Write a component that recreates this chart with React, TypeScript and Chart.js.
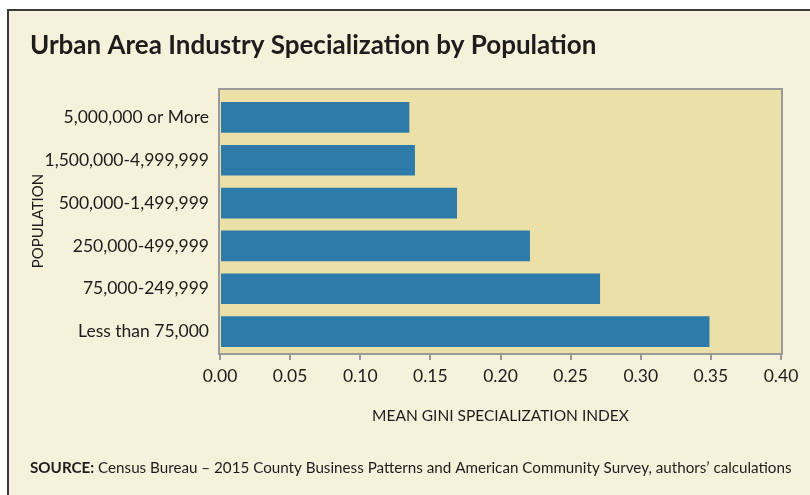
import React, { useEffect, useRef } from "react";
import { Chart, registerables } from "chart.js";

Chart.register(...registerables);

const categories = [
  "5,000,000 or More",
  "1,500,000-4,999,999",
  "500,000-1,499,999",
  "250,000-499,999",
  "75,000-249,999",
  "Less than 75,000",
];
const values = [0.135, 0.139, 0.169, 0.221, 0.271, 0.349];
const xTicks = [0, 0.05, 0.1, 0.15, 0.2, 0.25, 0.3, 0.35, 0.4];

const titleText = "Urban Area Industry Specialization by Population";
const xTitle = "MEAN GINI SPECIALIZATION INDEX";
const yTitle = "POPULATION";
const sourceBold = "SOURCE:";
const sourceText = " Census Bureau \u2013 2015 County Business Patterns and American Community Survey, authors\u2019 calculations";

const FONT = "Lato, 'Open Sans', sans-serif";
const TEXT = "#1f1c1d";

const decorPlugin = {
  id: "decor",
  beforeDraw(chart: any) {
    const { ctx, width, height, chartArea } = chart;
    ctx.save();
    ctx.fillStyle = "#ffffff";
    ctx.fillRect(0, 0, width, height);
    ctx.fillStyle = "#F6F1DA";
    ctx.fillRect(8, 10, width - 8, height - 10);
    ctx.fillStyle = "#3a3a3a";
    ctx.fillRect(7, 9, 2, height - 9);
    ctx.fillRect(7, 9, width - 7, 2);
    ctx.fillStyle = "#EBE0A7";
    ctx.fillRect(chartArea.left, 90, chartArea.right - chartArea.left, chartArea.bottom - 90);
    ctx.restore();
  },
  afterDraw(chart: any) {
    const { ctx, chartArea } = chart;
    ctx.save();
    ctx.strokeStyle = "#9a9a9a";
    ctx.lineWidth = 2;
    ctx.strokeRect(chartArea.left - 1, 89, chartArea.right - chartArea.left + 2, chartArea.bottom - 89 + 1);

    ctx.fillStyle = TEXT;
    ctx.textBaseline = "middle";
    ctx.textAlign = "left";
    ctx.font = `bold 26px ${FONT}`;
    ctx.fillText(titleText, 30, 46);

    ctx.font = `15.5px ${FONT}`;
    ctx.textAlign = "center";
    ctx.fillText(xTitle, (chartArea.left + chartArea.right) / 2, 416);

    ctx.save();
    ctx.translate(38, 221);
    ctx.rotate(-Math.PI / 2);
    ctx.font = `15px ${FONT}`;
    ctx.fillText(yTitle, 0, 0);
    ctx.restore();

    ctx.textAlign = "left";
    ctx.font = `bold 15.2px ${FONT}`;
    ctx.fillText(sourceBold, 30, 468);
    const w = ctx.measureText(sourceBold).width;
    ctx.font = `15.2px ${FONT}`;
    ctx.fillText(sourceText, 30 + w, 468);
    ctx.restore();
  },
};

export default function App() {
  const ref = useRef<HTMLCanvasElement | null>(null);
  useEffect(() => {
    if (!ref.current) return;
    const chart = new Chart(ref.current, {
      type: "bar",
      data: {
        labels: categories,
        datasets: [
          {
            data: values,
            backgroundColor: "#2E7BAA",
            borderWidth: 0,
            barPercentage: 0.717,
            categoryPercentage: 1,
          },
        ],
      },
      options: {
        indexAxis: "y",
        responsive: false,
        animation: false,
        layout: { padding: { top: 96, right: 29, left: 0, bottom: 0 } },
        plugins: { legend: { display: false }, tooltip: { enabled: false }, title: { display: false } },
        scales: {
          x: {
            min: 0,
            max: 0.4,
            afterBuildTicks(scale: any) {
              scale.ticks = xTicks.map((v) => ({ value: v }));
            },
            afterFit(scale: any) {
              scale.height = 142;
            },
            grid: {
              display: true,
              drawOnChartArea: false,
              drawTicks: true,
              tickLength: 7,
              color: "#9a9a9a",
              lineWidth: 2,
            },
            border: { display: false },
            ticks: {
              padding: 6,
              color: TEXT,
              font: { family: FONT, size: 17.5 },
              maxRotation: 0,
              callback: (v: any) => Number(v).toFixed(2),
            },
          },
          y: {
            afterFit(scale: any) {
              scale.width = 220;
            },
            grid: { display: false, drawTicks: false },
            border: { display: false },
            ticks: {
              padding: 11,
              color: TEXT,
              font: { family: FONT, size: 17.5 },
            },
          },
        },
      },
      plugins: [decorPlugin],
    });
    return () => chart.destroy();
  }, []);
  return (
    <div style={{ position: "absolute", left: 0, top: 0, width: 810, height: 495 }}>
      <canvas ref={ref} width={810} height={495} style={{ display: "block" }} />
    </div>
  );
}
